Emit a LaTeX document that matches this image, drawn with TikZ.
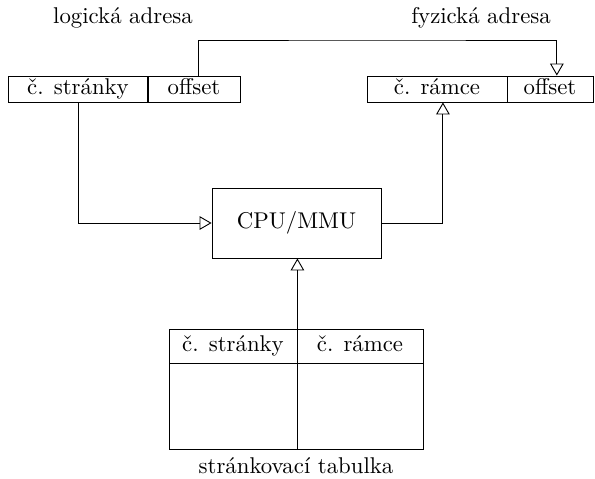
\documentclass[tikz,border=0pt]{standalone}
\usepackage{fontspec}
\usepackage{tikz}
\usetikzlibrary{arrows}

\tikzset{
  cell/.style={draw, inner sep=0pt, minimum height=11.4pt, text height=6.9pt, text depth=1.9pt},
  conn/.style={-open triangle 60}
}

\begin{document}
\begin{tikzpicture}[x=0.4386pt,y=-0.4386pt]
  \useasboundingbox (0,0) rectangle (595,478);
  % adresy
  \node at (123,18) {logická adresa};
  \node at (481,18) {fyzická adresa};
  \node [cell, minimum width=61.4pt] (ls) at (78,89) {č. stránky};
  \node [cell, minimum width=40.4pt] (lo) at (194,89) {offset};
  \node [cell, minimum width=61.4pt] (rr) at (437,89) {č. rámce};
  \node [cell, minimum width=37.7pt] (ro) at (550,89) {offset};
  % MMU
  \node [draw, minimum width=74.1pt, minimum height=30.7pt] (cpu) at (296.5,223) {CPU/MMU};
  % tabulka
  \node [cell, minimum width=56.1pt, minimum height=14.9pt] (ts) at (233,346) {č. stránky};
  \node [cell, minimum width=55.3pt, minimum height=14.9pt] (tr) at (360,346) {č. rámce};
  \node [draw, anchor=north, minimum width=56.1pt, minimum height=37.3pt] (tsb) at (ts.south) {};
  \node [draw, anchor=north, minimum width=55.3pt, minimum height=37.3pt] (trb) at (tr.south) {};
  \node at (296,466) {stránkovací tabulka};
  % spoje
  \coordinate (top) at (377,40);
  \draw [conn] ([xshift=1.8pt]lo.north) |- (top) -| ([xshift=3pt]ro.north);
  \draw [conn] (ls.south) |- (cpu.west);
  \draw [conn] (cpu.east) -| ([xshift=2.6pt]rr.south);
  \draw [conn] (ts.north east) -- (ts.north east |- cpu.south);
\end{tikzpicture}
\end{document}
